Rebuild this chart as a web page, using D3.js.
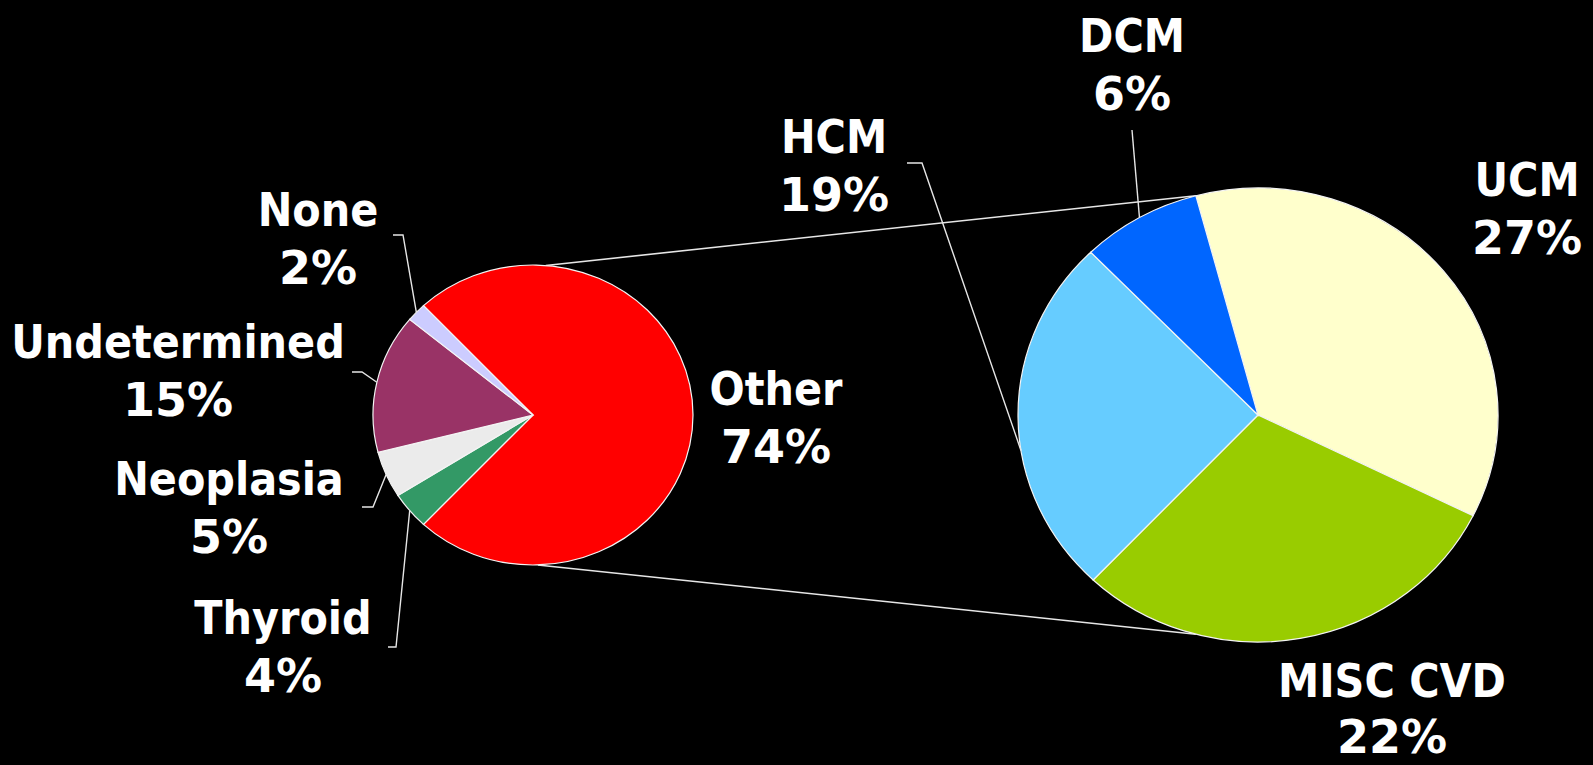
<!DOCTYPE html>
<html>
<head>
<meta charset="utf-8">
<script src="https://cdn.jsdelivr.net/npm/d3@7"></script>
<style>
html, body { margin: 0; padding: 0; background: #000; }
svg { display: block; }
text {
    font-family: "DejaVu Sans Condensed", "DejaVu Sans", Verdana, sans-serif;
    font-stretch: condensed;
    font-weight: bold;
    font-size: 46px;
    fill: #fff;
}
text .pct { font-family: "DejaVu Sans", Verdana, sans-serif; font-stretch: normal; }
</style>
</head>
<body>
<div id="chart"></div>
<script>
// first pie: all causes
var mainLabels = ['Other', 'Thyroid', 'Neoplasia', 'Undetermined', 'None'];
var mainValues = [74, 4, 5, 15, 2];
var mainColors = ['#ff0000', '#339966', '#ebebeb', '#993366', '#ccccff'];

// second pie: breakdown of "Other" (shares of the total)
var subLabels = ['UCM', 'MISC CVD', 'HCM', 'DCM'];
var subValues = [27, 22, 19, 6];
var subColors = ['#ffffcc', '#99cc00', '#66ccff', '#0066ff'];

var width = 1593, height = 765;

// where the two pies sit (slightly wider than tall, like the slide)
var leftPie = { cx: 533, cy: 415, rx: 160, ry: 150 };
var rightPie = { cx: 1258, cy: 415, rx: 240, ry: 227 };
var subStart = -15 * Math.PI / 180;

// label anchors: x centre, baseline of first line, optional elbow of leader,
// optional angle (deg) where the leader meets the pie
var labelPos = {
    'Other':        { x: 776,  y: 405 },
    'Thyroid':      { x: 283,  y: 634, elbow: [[388, 647], [396, 647]] },
    'Neoplasia':    { x: 229,  y: 495, elbow: [[362, 507], [373, 507]] },
    'Undetermined': { x: 178,  y: 358, elbow: [[352, 372], [362, 372]] },
    'None':         { x: 318,  y: 226, elbow: [[393, 235], [403, 235]] },
    'UCM':          { x: 1527, y: 196 },
    'MISC CVD':     { x: 1392, y: 697, gap: 56 },
    'HCM':          { x: 834,  y: 153, elbow: [[907, 163], [922, 163]], at: 261 },
    'DCM':          { x: 1132, y: 52,  elbow: [[1132, 130]] }
};
var lineGap = 58;

var svg = d3.select('#chart').append('svg')
    .attr('width', width)
    .attr('height', height)
    .attr('viewBox', '0 0 ' + width + ' ' + height);

svg.append('rect')
    .attr('x', 0)
    .attr('y', 0)
    .attr('width', width)
    .attr('height', height)
    .attr('fill', '#000');

function edgePoint(p, a) {
    return [p.cx + p.rx * Math.sin(a), p.cy - p.ry * Math.cos(a)];
}

function drawPie(p, arcs, colors) {
    var arc = d3.arc().innerRadius(0).outerRadius(p.ry);
    var g = svg.append('g')
        .attr('transform', 'translate(' + p.cx + ',' + p.cy + ') scale(' + (p.rx / p.ry) + ',1)');
    g.selectAll('path')
        .data(arcs)
        .enter()
        .append('path')
        .attr('d', arc)
        .attr('fill', function(d, i) { return colors[i]; })
        .attr('stroke', '#f4f4f4')
        .attr('stroke-width', 1.2)
        .attr('vector-effect', 'non-scaling-stroke');
}

function drawLabels(p, arcs, labels, values) {
    var line = d3.line();
    arcs.forEach(function(d, i) {
        var pos = labelPos[labels[i]];
        if (pos.elbow) {
            var a = pos.at !== undefined ? pos.at * Math.PI / 180 : (d.startAngle + d.endAngle) / 2;
            var pts = pos.elbow.concat([edgePoint(p, a)]);
            svg.append('path')
                .attr('d', line(pts))
                .attr('fill', 'none')
                .attr('stroke', '#e6e6e6')
                .attr('stroke-width', 1.4);
        }
        var t = svg.append('text')
            .attr('text-anchor', 'middle');
        t.append('tspan')
            .attr('x', pos.x)
            .attr('y', pos.y)
            .text(labels[i]);
        t.append('tspan')
            .attr('class', 'pct')
            .attr('x', pos.x)
            .attr('y', pos.y + (pos.gap || lineGap))
            .text(values[i] + '%');
    });
}

// "Other" is centred on the right-hand side of the first pie
var otherShare = mainValues[0] / d3.sum(mainValues);
var mainStart = Math.PI / 2 - Math.PI * otherShare;

var mainArcs = d3.pie()
    .sort(null)
    .value(function(d) { return d; })
    .startAngle(mainStart)
    .endAngle(mainStart + 2 * Math.PI)(mainValues);

var subArcs = d3.pie()
    .sort(null)
    .value(function(d) { return d; })
    .startAngle(subStart)
    .endAngle(subStart + 2 * Math.PI)(subValues);

// series lines joining the two pies
var joinLines = [
    [edgePoint(leftPie, 0.08), edgePoint(rightPie, subStart)],
    [edgePoint(leftPie, Math.PI - 0.03), edgePoint(rightPie, Math.PI - subStart)]
];
svg.selectAll('.join')
    .data(joinLines)
    .enter()
    .append('path')
    .attr('class', 'join')
    .attr('d', d3.line())
    .attr('fill', 'none')
    .attr('stroke', '#e6e6e6')
    .attr('stroke-width', 1.6);

drawPie(leftPie, mainArcs, mainColors);
drawPie(rightPie, subArcs, subColors);

drawLabels(leftPie, mainArcs, mainLabels, mainValues);
drawLabels(rightPie, subArcs, subLabels, subValues);
</script>
</body>
</html>
